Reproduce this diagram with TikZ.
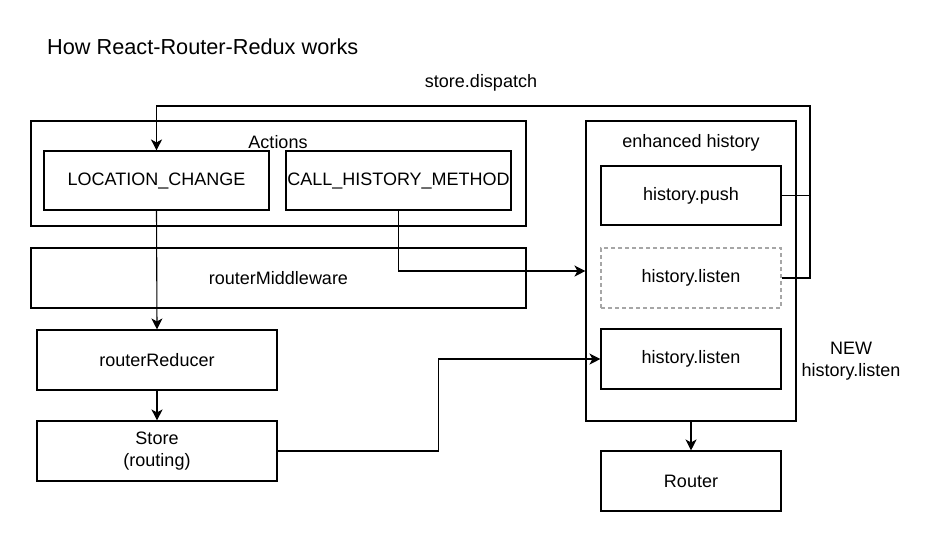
\documentclass[tikz,border=0pt]{standalone}
\usepackage{fontspec}
\setmainfont{Liberation Sans}
\usetikzlibrary{arrows.meta,calc}
\begin{document}
\begin{tikzpicture}[x=1pt,y=-1pt,
  box/.style={draw,line width=1.1pt,minimum width=#1,inner sep=0pt,font=\fontsize{18}{21.5}\selectfont,align=center},
  box/.default=180pt,
  dbox/.style={box=180pt,draw=gray!70,dashed,dash pattern=on 4pt off 3pt},
  txt/.style={inner sep=0pt,font=\fontsize{18}{21.5}\selectfont,align=center},
  conn/.style={line width=1.1pt},
  arr/.style={conn,-{Stealth[length=11pt,width=11pt,inset=3pt]}}]
\useasboundingbox (0,0) rectangle (933,542);
\fill[white] (0,0) rectangle (933,542);
% title
\node[inner sep=0pt,anchor=west,font=\fontsize{21.7}{26}\selectfont] (title) at (47,47) {How React-Router-Redux works};
\node[txt] (sd) at (481,83) {store.dispatch};
% left column
\node[box=495pt,minimum height=105pt] (actions) at (278.5,173.5) {};
\node[txt] (actlbl) at (278,142) {Actions};
\node[box=225pt,minimum height=59pt] (loc) at (156.5,180.5) {LOCATION\_CHANGE};
\node[box=225pt,minimum height=59pt] (call) at (398.5,180.5) {CALL\_HISTORY\_METHOD};
\node[box=495pt,minimum height=60pt] (mw) at (278.5,278) {routerMiddleware};
\node[box=240pt,minimum height=60pt] (red) at (157,360) {routerReducer};
\node[box=240pt,minimum height=60pt] (store) at (157,451) {Store\\(routing)};
% right column
\node[box=210pt,minimum height=300pt] (enh) at (691,271) {};
\node[txt] (enhlbl) at (691,143) {enhanced history};
\node[box=180pt,minimum height=59pt] (push) at (691,195.5) {history.push};
\node[dbox,minimum height=60pt] (dl) at (691,278) {history.listen};
\node[box=180pt,minimum height=60pt] (listen) at (691,359) {history.listen};
\node[box=180pt,minimum height=60pt] (router) at (691,481) {Router};
\node[txt] (newlbl) at (851,361) {NEW\\history.listen};
% connectors
\coordinate (fb) at (810,106);
\draw[arr] (push.east) -| (fb) -| (loc.north);
\draw[conn] (dl.east) -| (fb);
\draw[arr] (loc.south) -- (red.north);
\draw[arr] (red.south) -- (store.north);
\draw[arr] (call.south) |- (enh.west);
\draw[arr] (store.east) -- ++(161,0) |- (listen.west);
\draw[arr] (enh.south) -- (router.north);
\end{tikzpicture}
\end{document}
